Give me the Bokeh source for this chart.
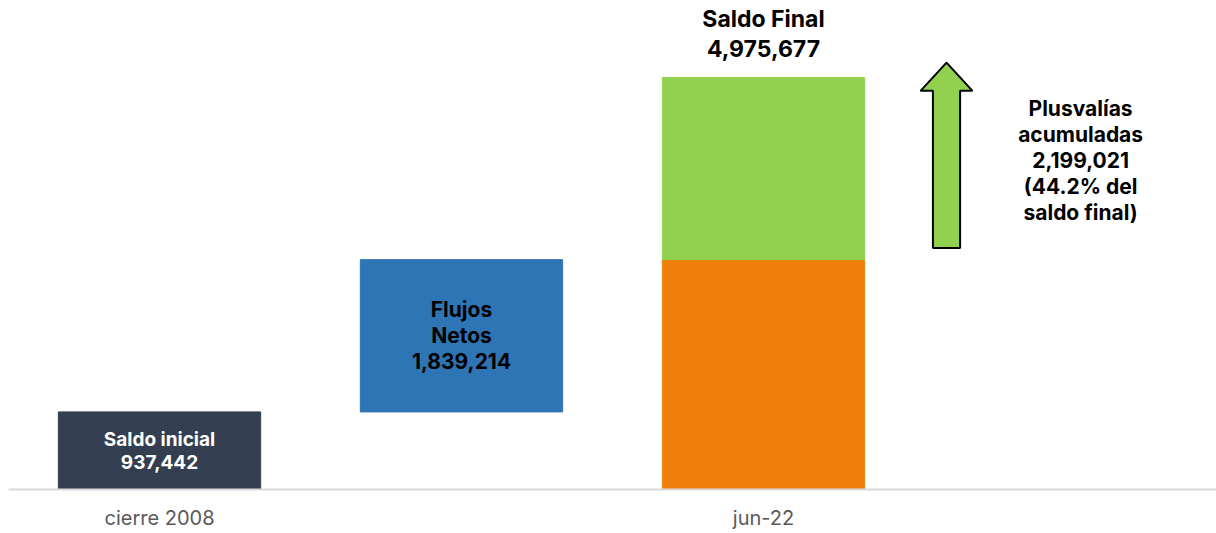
from bokeh.plotting import figure
from bokeh.models import Range1d, FixedTicker
from bokeh.core.properties import value
from bokeh.embed import file_html
from bokeh.resources import INLINE

# ---- data ----
categories = ["cierre 2008", "", "jun-22"]
saldo_inicial = 937442
flujos_netos = 1839214
plusvalias = 2199021
saldo_final = 4975677
pct_plusvalias = 44.2

FONT = value("Inter")

p = figure(width=1216, height=533, output_backend="svg", toolbar_location=None,
           x_range=Range1d(-0.5, 3.5), y_range=Range1d(0, 5.81e6),
           min_border_left=8, min_border_right=0, min_border_top=8, min_border_bottom=44)
p.outline_line_color = None
p.xgrid.visible = False
p.ygrid.visible = False
p.yaxis.visible = False
p.background_fill_color = "white"
p.border_fill_color = "white"

ax = p.xaxis[0]
ax.ticker = FixedTicker(ticks=[0, 2])
ax.major_label_overrides = {0: categories[0], 2: categories[2]}
ax.axis_line_color = "#d9d9d9"
ax.axis_line_width = 2
ax.major_tick_line_color = None
ax.minor_tick_line_color = None
ax.major_label_standoff = 10
ax.major_label_text_font = "Inter"
ax.major_label_text_font_size = "20px"
ax.major_label_text_color = "#595959"

w = 0.67
base_flujos = saldo_inicial
top_flujos = saldo_inicial + flujos_netos
# bars
p.vbar(x=[0], bottom=[0], top=[saldo_inicial], width=w, color="#333f50")
p.vbar(x=[1], bottom=[base_flujos], top=[top_flujos], width=w, color="#2e75b6")
p.vbar(x=[2], bottom=[0], top=[top_flujos], width=w, color="#f0800c")
p.vbar(x=[2], bottom=[top_flujos], top=[saldo_final], width=w, color="#92d050")

def fmt(v):
    return f"{v:,}"

p.text(x=[0], y=[saldo_inicial / 2], text=[f"Saldo inicial\n{fmt(saldo_inicial)}"],
       text_align="center", text_baseline="middle", text_font=FONT,
       text_font_style="bold", text_font_size="19px", text_color="white",
       text_line_height=1.0)
p.text(x=[1], y=[base_flujos + flujos_netos / 2], text=[f"Flujos\nNetos\n{fmt(flujos_netos)}"],
       text_align="center", text_baseline="middle", text_font=FONT,
       text_font_style="bold", text_font_size="21px", text_color="black",
       text_line_height=1.04)
p.text(x=[2], y=[saldo_final], text=[f"Saldo Final\n{fmt(saldo_final)}"],
       text_align="center", text_baseline="bottom", y_offset=-15, text_font=FONT,
       text_font_style="bold", text_font_size="23px", text_color="black",
       text_line_height=1.04)

# arrow representing plusvalías
ax_c = 2.606
shaft = 0.045
head = 0.086
a_bot = top_flujos + 0.14e6
a_tip = saldo_final + 0.18e6
a_neck = a_tip - 0.34e6
p.patch(x=[ax_c - shaft, ax_c + shaft, ax_c + shaft, ax_c + head, ax_c, ax_c - head, ax_c - shaft],
        y=[a_bot, a_bot, a_neck, a_neck, a_tip, a_neck, a_neck],
        fill_color="#92d050", line_color="black", line_width=2)

p.text(x=[3.05], y=[top_flujos + plusvalias / 2 + 0.1e6],
       text=[f"Plusvalías\nacumuladas\n{fmt(plusvalias)}\n({pct_plusvalias}% del\nsaldo final)"],
       text_align="center", text_baseline="middle", text_font=FONT,
       text_font_style="bold", text_font_size="21px", text_color="black",
       text_line_height=1.04)

open("out.html", "w").write(file_html(p, INLINE))
